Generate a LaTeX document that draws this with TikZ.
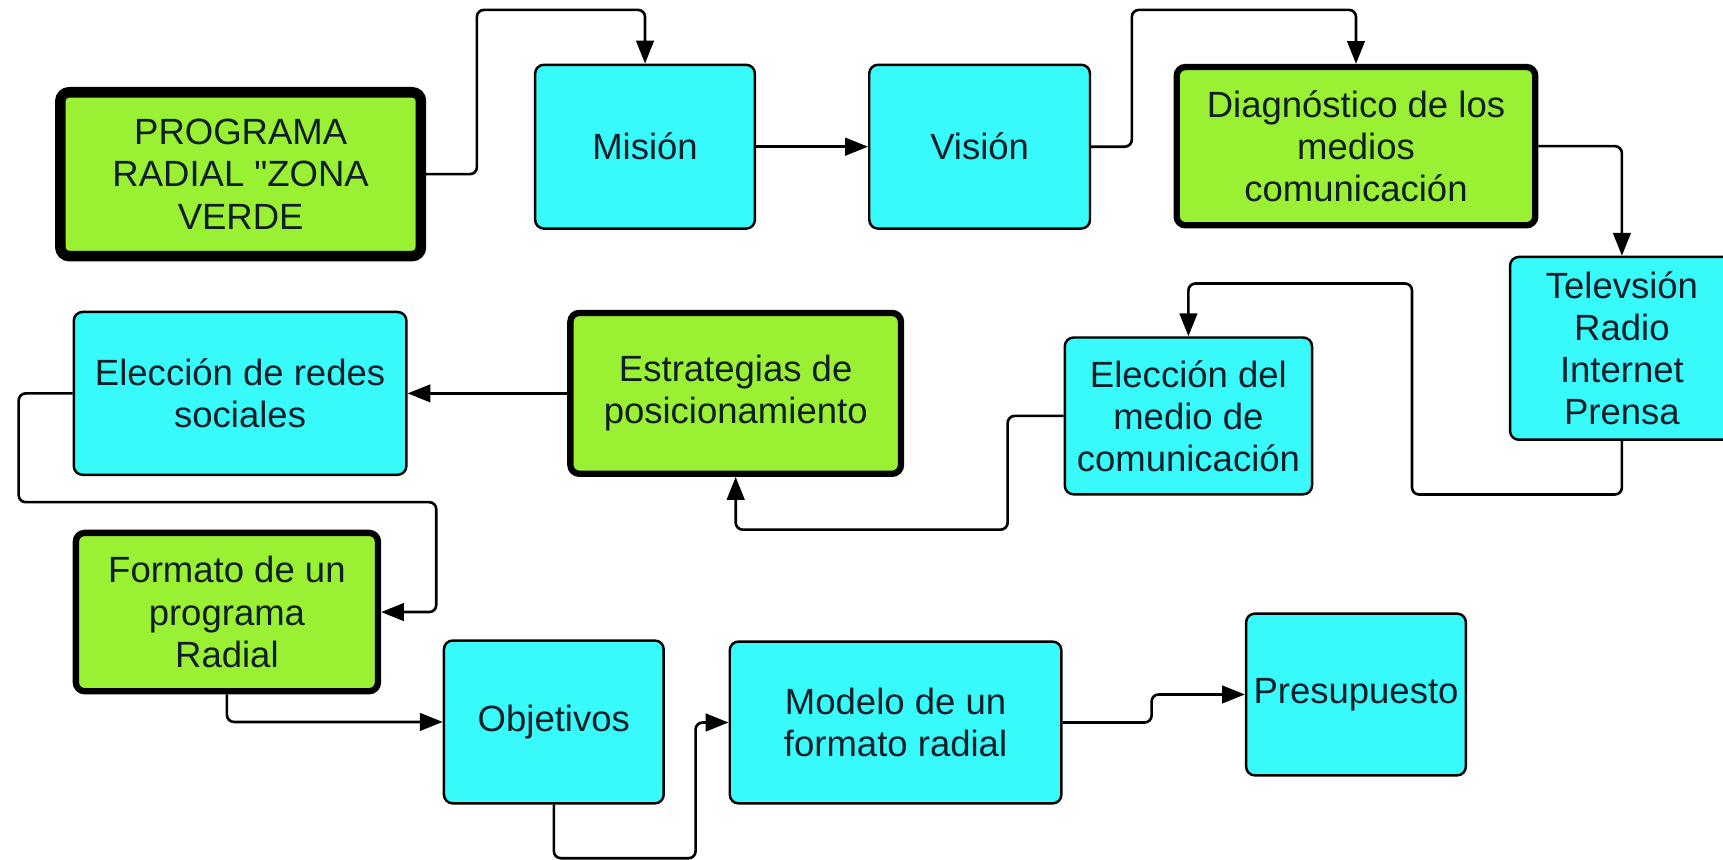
\documentclass[tikz,border=0pt]{standalone}
\usepackage{fontspec}
\setmainfont{Liberation Sans}
\usepackage{tikz}
\usetikzlibrary{arrows.meta, calc, positioning}
\definecolor{cyanfill}{RGB}{56,250,250}
\definecolor{greenfill}{RGB}{154,240,51}
\definecolor{textdark}{RGB}{16,30,40}
\tikzstyle{block} = [rectangle, rounded corners=2.5pt, draw=black, line width=0.7pt, fill=cyanfill, text=textdark, align=center, inner sep=0pt, font=\fontsize{10.4}{12}\selectfont]
\tikzstyle{keyblock} = [block, line width=1.8pt, fill=greenfill]
\tikzstyle{arrow} = [line width=0.75pt, rounded corners=2pt, -{Triangle[length=6.5pt,width=5pt]}]

\begin{document}
\begin{tikzpicture}[x=0.011cm, y=-0.011cm]
	\useasboundingbox (0,0) rectangle (1568,782.6);
	\clip (0,0) rectangle (1568,782.6);
	\node (Programa) [keyblock, line width=3pt, minimum width=3.61cm, minimum height=1.64cm] at (219,158.5) {PROGRAMA\\RADIAL \textquotedbl ZONA\\VERDE};
	\node (Mision) [block, minimum width=2.2cm, minimum height=1.64cm] at (587,133.5) {Misión};
	\node (Vision) [block, minimum width=2.21cm, minimum height=1.64cm] at (891.5,133.5) {Visión};
	\node (Diagnostico) [keyblock, minimum width=3.59cm, minimum height=1.585cm] at (1234,133) {Diagnóstico de los\\medios\\comunicación};
	\node (Medios) [block, minimum width=2.24cm, minimum height=1.83cm] at (1476,317) {Televsión\\Radio\\Internet\\Prensa};
	\node (Eleccion) [block, minimum width=2.475cm, minimum height=1.57cm] at (1081.5,378.5) {Elección del\\medio de\\comunicación};
	\node (Estrategias) [keyblock, minimum width=3.31cm, minimum height=1.61cm] at (669.5,358) {Estrategias de\\posicionamiento};
	\node (Redes) [block, minimum width=3.33cm, minimum height=1.63cm] at (218.5,358) {Elección de redes\\sociales};
	\node (Formato) [keyblock, minimum width=3.025cm, minimum height=1.585cm] at (206.5,557) {Formato de un\\programa\\Radial};
	\node (Objetivos) [block, minimum width=2.2cm, minimum height=1.63cm] at (504,657) {Objetivos};
	\node (Modelo) [block, minimum width=3.32cm, minimum height=1.62cm] at (815,657.5) {Modelo de un\\formato radial};
	\node (Presupuesto) [block, minimum width=2.2cm, minimum height=1.62cm] at (1234,632) {Presupuesto};
	\draw [arrow] (Programa.east) -| (434,9) -| (Mision.north);
	\draw [arrow] (Mision.east) -- (Vision.west);
	\draw [arrow] (Vision.east) -| (1030,9) -| (Diagnostico.north);
	\draw [arrow] (Diagnostico.east) -| (Medios.north);
	\draw [arrow] (Medios.south) |- (1285,450) |- (Eleccion.north |- 0,258) -- (Eleccion.north);
	\draw [arrow] (Eleccion.west) -| (917,482) -| (Estrategias.south);
	\draw [arrow] (Estrategias.west) -- (Redes.east);
	\draw [arrow] (Redes.west) -| (17,457) -| (Formato.east -| 397,0) -- (Formato.east);
	\draw [arrow] (Formato.south) |- (Objetivos.west);
	\draw [arrow] (Objetivos.south) |- (633,781) |- (Modelo.west);
	\draw [arrow] (Modelo.east) -| (1048,632) -- (Presupuesto.west);
\end{tikzpicture}
\end{document}
